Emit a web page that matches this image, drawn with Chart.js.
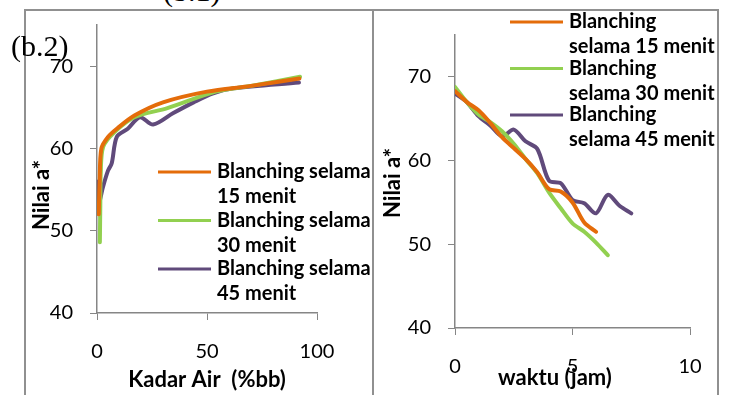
<!DOCTYPE html>
<html>
<head>
<meta charset="utf-8">
<script src="https://cdn.jsdelivr.net/npm/chart.js@4.4.1/dist/chart.umd.min.js"></script>
<style>
  html, body { margin: 0; padding: 0; background: #fff; }
  #page { position: relative; width: 731px; height: 395px; overflow: hidden; background: #fff; }
  .frame { position: absolute; top: 9px; height: 420px; box-sizing: border-box;
           border: 2px solid #909090; border-bottom: none; }
  #frameA { left: 24px; width: 350px; }
  #frameB { left: 372px; width: 347px; }
  canvas { position: absolute; }
  #chartKadar { left: 25px; top: 10px; }
  #chartWaktu { left: 374px; top: 10px; }
  .cap { position: absolute; font-family: "Liberation Serif", "Times New Roman", serif;
         font-size: 30px; line-height: 30px; color: #000; white-space: nowrap; }
</style>
</head>
<body>
<div id="page">
  <div class="frame" id="frameA"></div>
  <div class="frame" id="frameB"></div>
  <canvas id="chartKadar" width="347" height="385"></canvas>
  <canvas id="chartWaktu" width="343" height="385"></canvas>
  <div class="cap" style="left:163px; top:-24px;">(b.1)</div>
  <div class="cap" style="left:11px; top:31px;">(b.2)</div>
</div>
<script>
// Series names and colours (15, 30, 45 minute blanching)
const seriesNames  = ['Blanching selama 15 menit', 'Blanching selama 30 menit', 'Blanching selama 45 menit'];
const seriesColors = ['#E46C0A', '#92D050', '#604A7B'];

// Legend line breaks for each panel
const legendLinesKadar = [['Blanching selama', '15 menit'], ['Blanching selama', '30 menit'], ['Blanching selama', '45 menit']];
const legendLinesWaktu = [['Blanching', 'selama 15 menit'], ['Blanching', 'selama 30 menit'], ['Blanching', 'selama 45 menit']];

// Panel 1: Nilai a* against Kadar Air (%bb)
const kadarAir15 = [0.8, 1.2, 2.0, 5.0, 9.5, 17, 30, 50, 70, 92];
const nilaiA15k  = [52.0, 56.0, 60.0, 61.4, 62.5, 64.0, 65.6, 66.9, 67.6, 68.5];
const kadarAir30 = [1.3, 1.5, 1.7, 2.8, 8.0, 17, 32, 54, 70, 92.3];
const nilaiA30k  = [48.6, 53.0, 57.0, 60.2, 62.0, 63.8, 64.9, 66.9, 67.6, 68.7];
const kadarAir45 = [0.8, 1.0, 2.7, 5.0, 6.7, 9.0, 14, 19.5, 25.5, 34.7, 43.9, 52.8, 62, 91.8];
const nilaiA45k  = [56.0, 53.5, 55.3, 57.3, 58.2, 61.4, 62.4, 63.8, 62.9, 64.3, 65.6, 66.7, 67.3, 68.0];

// Panel 2: Nilai a* against waktu (jam)
const waktu15   = [0, 0.5, 1.0, 1.5, 2.0, 2.5, 3.0, 3.5, 4.0, 4.5, 5.0, 5.5, 6.0];
const nilaiA15w = [68.3, 67.0, 66.0, 64.5, 62.8, 61.5, 60.2, 58.6, 56.6, 56.3, 55.0, 52.6, 51.5];
const waktu30   = [0, 0.5, 1.0, 1.5, 2.0, 2.5, 3.0, 3.5, 4.0, 4.5, 5.0, 5.5, 6.0, 6.5];
const nilaiA30w = [68.8, 67.0, 65.5, 64.6, 63.5, 62.0, 60.2, 58.5, 56.2, 54.3, 52.5, 51.5, 50.2, 48.7];
const waktu45   = [0, 0.5, 1.0, 1.5, 2.0, 2.5, 3.0, 3.5, 4.0, 4.5, 5.0, 5.5, 6.0, 6.5, 7.0, 7.5];
const nilaiA45w = [68.0, 67.0, 65.3, 64.2, 62.9, 63.7, 62.3, 61.4, 57.6, 57.3, 55.3, 54.9, 53.7, 55.9, 54.6, 53.7];

// Axis ticks and titles
const yTicks = [40, 50, 60, 70];
const yTitle = 'Nilai a*';
const xTitleKadar = 'Kadar Air  (%bb)';
const xTitleWaktu = 'waktu (jam)';

const AXIS_GREY = '#868686';
const TICK_FONT = { family: 'Lato, "Liberation Sans", sans-serif', size: 20 };
const LEGEND_FONT = 'bold 20px Lato, "Liberation Sans", sans-serif';
const TITLE_FONT = 'bold 22px Lato, "Liberation Sans", sans-serif';

function pairs(xs, ys) { return xs.map((x, i) => ({ x: x, y: ys[i] })); }

function lineSet(i, xs, ys) {
  return {
    label: seriesNames[i],
    data: pairs(xs, ys),
    showLine: true,
    borderColor: seriesColors[i],
    backgroundColor: seriesColors[i],
    borderWidth: 4,
    pointRadius: 0,
    tension: 0.3,
    borderCapStyle: 'round',
    borderJoinStyle: 'round'
  };
}

// Legend with wrapped entries, drawn from the datasets
const wrappedLegend = {
  id: 'wrappedLegend',
  afterDraw(chart, args, o) {
    const ctx = chart.ctx;
    ctx.save();
    ctx.font = LEGEND_FONT;
    ctx.textBaseline = 'middle';
    ctx.textAlign = 'left';
    chart.data.datasets.forEach((ds, i) => {
      const y0 = o.top + i * o.entryGap;
      ctx.strokeStyle = ds.borderColor;
      ctx.lineWidth = 3;
      ctx.beginPath();
      ctx.moveTo(o.lineX0, y0);
      ctx.lineTo(o.lineX1, y0);
      ctx.stroke();
      ctx.fillStyle = '#000';
      o.lines[i].forEach((t, j) => ctx.fillText(t, o.textX, y0 + j * o.lineGap));
    });
    ctx.restore();
  }
};

// Axis titles placed at fixed spots inside each panel
const axisCaptions = {
  id: 'axisCaptions',
  afterDraw(chart, args, o) {
    const ctx = chart.ctx;
    ctx.save();
    ctx.font = TITLE_FONT;
    ctx.fillStyle = '#000';
    ctx.textAlign = 'center';
    ctx.textBaseline = 'middle';
    ctx.fillText(o.xText, o.xPos[0], o.xPos[1]);
    ctx.translate(o.yPos[0], o.yPos[1]);
    ctx.rotate(-Math.PI / 2);
    ctx.fillText(o.yText, 0, 0);
    ctx.restore();
  }
};

function makeChart(canvasId, datasets, xMax, xStep, pad, yWidth, xHeight, legendOpts, captionOpts) {
  return new Chart(document.getElementById(canvasId), {
    type: 'scatter',
    data: { datasets: datasets },
    options: {
      responsive: false,
      animation: false,
      devicePixelRatio: 1,
      layout: { padding: pad },
      plugins: {
        legend: { display: false },
        tooltip: { enabled: false },
        wrappedLegend: legendOpts,
        axisCaptions: captionOpts
      },
      scales: {
        x: {
          type: 'linear', min: 0, max: xMax,
          ticks: { stepSize: xStep, color: '#000', font: TICK_FONT, padding: 20, maxRotation: 0 },
          grid: { drawOnChartArea: false, drawTicks: true, tickLength: 7, color: AXIS_GREY, lineWidth: 1 },
          border: { display: true, color: AXIS_GREY, width: 1.5 },
          afterFit(s) { s.height = xHeight; s.paddingLeft = 0; s.paddingRight = 0; }
        },
        y: {
          type: 'linear', min: 40, max: 75,
          afterBuildTicks(s) { s.ticks = yTicks.map(v => ({ value: v })); },
          ticks: { color: '#000', font: TICK_FONT, padding: 17 },
          grid: { drawOnChartArea: false, drawTicks: true, tickLength: 7, color: AXIS_GREY, lineWidth: 1 },
          border: { display: true, color: AXIS_GREY, width: 1.5 },
          afterFit(s) { s.width = yWidth; s.paddingTop = 0; s.paddingBottom = 0; }
        }
      }
    },
    plugins: [wrappedLegend, axisCaptions]
  });
}

function build() {
  makeChart('chartKadar',
    [lineSet(0, kadarAir15, nilaiA15k), lineSet(1, kadarAir30, nilaiA30k), lineSet(2, kadarAir45, nilaiA45k)],
    100, 50,
    { left: 0, top: 15, right: 55, bottom: 0 }, 72, 82,
    { lines: legendLinesKadar, top: 162, entryGap: 48.5, lineGap: 25, lineX0: 133, lineX1: 186, textX: 192 },
    { xText: xTitleKadar, xPos: [182, 370], yText: yTitle, yPos: [17, 185] });

  makeChart('chartWaktu',
    [lineSet(0, waktu15, nilaiA15w), lineSet(1, waktu30, nilaiA30w), lineSet(2, waktu45, nilaiA45w)],
    10, 5,
    { left: 0, top: 25, right: 27, bottom: 0 }, 81, 67,
    { lines: legendLinesWaktu, top: 12, entryGap: 46.5, lineGap: 25, lineX0: 136, lineX1: 189, textX: 195 },
    { xText: xTitleWaktu, xPos: [181, 368], yText: yTitle, yPos: [19, 173] });
}

if (document.fonts && document.fonts.load) {
  Promise.all([document.fonts.load('20px Lato'), document.fonts.load('bold 20px Lato'), document.fonts.load('bold 22px Lato')])
    .then(build, build);
} else {
  build();
}
</script>
</body>
</html>
